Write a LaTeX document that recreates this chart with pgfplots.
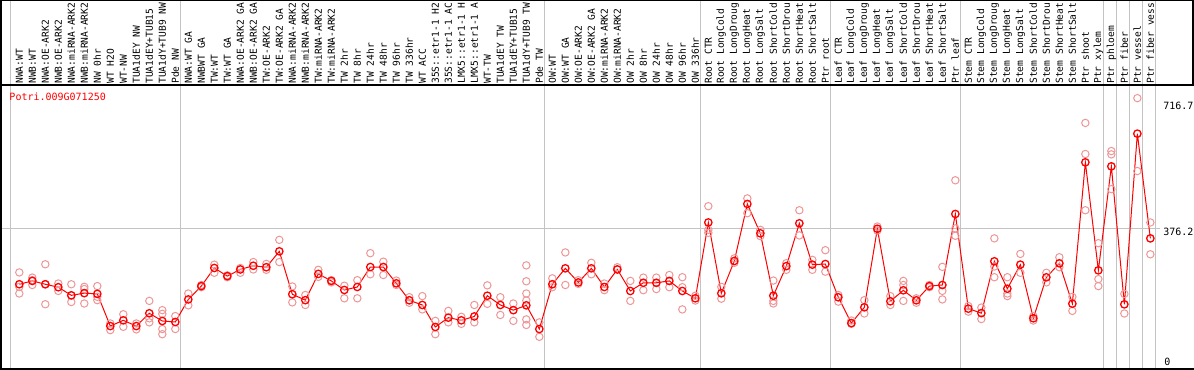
\documentclass[border=0pt]{standalone}
\usepackage{pgfplots}
\pgfplotsset{compat=1.18}
\usepackage{fontspec}
\newfontfamily\mono{DejaVu Sans Mono}
\definecolor{rep}{RGB}{238,150,150}
\definecolor{sep}{RGB}{195,195,195}
\begin{document}
\begin{tikzpicture}
\useasboundingbox (0,0) rectangle (1194bp,370bp);
\begin{axis}[
  at={(1bp,1.2bp)}, anchor=south west,
  scale only axis, width=1191.5bp, height=283.8bp,
  xmin=-1.408, xmax=90.246, ymin=-3.5, ymax=763.5,
  axis line style={draw=none},
  clip=false,
  major tick length=0pt,
  tick style={draw=none},
  xtick={0,...,87},
  xticklabel pos=upper,
  xticklabels={NWA:WT,NWB:WT,NWA:OE-ARK2,NWB:OE-ARK2,NWA:miRNA-ARK2,NWB:miRNA-ARK2,NW 0hr,WT H2O,WT-NW,TUA1dEY NW,TUA1dEY+TUB15,TUA1dY+TUB9 NW,Pde NW,
    NWA:WT GA,NWBWT GA,TW:WT,TW:WT GA,NWA:OE-ARK2 GA,NWB:OE-ARK2 GA,TW:OE-ARK2,TW:OE-ARK2 GA,NWA:miRNA-ARK2,NWB:miRNA-ARK2,TW:miRNA-ARK2,TW:miRNA-ARK2,TW 2hr,TW 8hr,TW 24hr,TW 48hr,TW 96hr,TW 336hr,WT ACC,35S::etr1-1 H2,35S::etr1-1 AC,LMX5::etr1-1 H,LMX5::etr1-1 A,WT-TW,TUA1dEY TW,TUA1dEY+TUB15,TUA1dY+TUB9 TW,Pde TW,
    OW:WT,OW:WT GA,OW:OE-ARK2,OW:OE-ARK2 GA,OW:miRNA-ARK2,OW:miRNA-ARK2,OW 2hr,OW 8hr,OW 24hr,OW 48hr,OW 96hr,OW 336hr,
    Root CTR,Root LongCold,Root LongDroug,Root LongHeat,Root LongSalt,Root ShortCold,Root ShortDrou,Root ShortHeat,Root ShortSalt,Ptr root,
    Leaf CTR,Leaf LongCold,Leaf LongDroug,Leaf LongHeat,Leaf LongSalt,Leaf ShortCold,Leaf ShortDrou,Leaf ShortHeat,Leaf ShortSalt,Ptr leaf,
    Stem CTR,Stem LongCold,Stem LongDroug,Stem LongHeat,Stem LongSalt,Stem ShortCold,Stem ShortDrou,Stem ShortHeat,Stem ShortSalt,Ptr shoot,Ptr xylem,
    Ptr phloem,Ptr fiber,Ptr vessel,Ptr fiber vess},
  xticklabel style={rotate=90, anchor=west, inner sep=1.2bp, font=\mono\fontsize{9.6bp}{10bp}\selectfont, text=black},
  ytick={376.2,716.7},
  yticklabels={376.2,716.7},
  yticklabel pos=right,
  yticklabel style={anchor=north west, inner sep=0pt, xshift=-29.5bp, font=\mono\fontsize{10bp}{11bp}\selectfont},
  extra y ticks={0},
  extra y tick labels={0},
  extra y tick style={yticklabel style={anchor=south west, yshift=1.5bp, xshift=1bp}},
]
% separators
\draw[sep, line width=1bp] (axis cs:87.75,376.2) -- (axis cs:-1.408,376.2);
\pgfplotsinvokeforeach{-0.69,12.38,40.38,52.38,62.38,72.38,83.38,84.38,85.38,86.38,87.38}{
  \draw[sep, line width=1bp] (axis cs:#1,-3.5) -- (axis cs:#1,996);
}
% replicates
\addplot[only marks, mark=o, mark size=3.7bp, mark options={draw=rep, line width=1bp}] coordinates {
(0,257)(0,218)(0,200)(1,243)(1,223)(1,236)(2,279)(2,171)(2,225)(3,227)(3,207)
(4,225)(4,177)(4,195)(5,218)(5,212)(5,173)(6,220)(6,191)(6,182)(7,119)(7,101)
(8,144)(8,110)(9,119)(9,103)(10,180)(10,133)(10,122)(11,155)(11,145)(11,104)(11,90)
(12,139)(12,104)(13,200)(13,168)(14,223)(14,217)(15,278)(15,256)(16,249)(16,244)
(17,269)(17,256)(18,285)(18,265)(19,280)(19,264)(20,345)(20,285)(21,219)(21,176)
(22,196)(22,169)(23,264)(23,245)(24,236)(24,230)(25,221)(25,187)(26,236)(26,187)
(27,309)(27,252)(28,286)(28,250)(29,235)(29,223)(30,190)(30,175)(31,193)(31,157)
(32,126)(32,90)(33,153)(33,122)(34,137)(34,118)(35,169)(35,122)(36,222)(36,172)
(37,190)(37,142)(38,173)(38,126)(39,276)(39,233)(39,200)(39,181)(39,130)(39,115)
(40,122)(40,83)(41,241)(41,217)(42,311)(42,223)(43,236)(43,226)(44,283)(44,252)
(45,227)(45,209)(46,265)(46,271)(47,234)(47,180)(48,243)(48,209)(49,243)(49,212)
(50,250)(50,217)(51,244)(51,217)(51,157)(52,194)(52,181)(53,436)(53,372)(53,364)
(54,218)(54,186)(55,295)(55,283)(56,457)(56,417)(57,372)(57,355)(58,235)(58,180)(58,173)
(59,282)(59,264)(60,425)(60,357)(61,291)(61,264)(62,317)(62,259)(63,196)(63,178)
(64,127)(64,118)(65,182)(65,146)(66,381)(66,370)(67,193)(67,169)(68,234)(68,223)(68,180)
(69,187)(69,175)(70,223)(70,217)(71,272)(71,207)(71,184)(72,506)(72,376)(72,356)
(73,166)(73,151)(74,162)(74,131)(75,349)(75,273)(75,244)(76,244)(76,200)(76,193)
(77,307)(77,256)(78,139)(78,127)(79,256)(79,230)(80,298)(80,271)(81,191)(81,153)
(82,661)(82,577)(82,425)(83,336)(83,239)(83,220)(84,585)(84,576)(84,482)
(85,199)(85,146)(86,728)(86,531)(87,392)(87,306)
};
% means
\addplot[red, line width=1bp, mark=o, mark size=3.7bp, mark options={draw=red, line width=1.3bp}] coordinates {
(0,225)(1,234)(2,225)(3,217)(4,195)(5,201)(6,199)(7,112)(8,127.5)(9,112)
(10,146.5)(11,125.7)(12,123)(13,184)(14,220)(15,269)(16,247)(17,265)(18,275)(19,271)
(20,314)(21,198)(22,182)(23,253)(24,234)(25,209.5)(26,217.6)(27,271.6)(28,271.6)(29,227.5)
(30,181.6)(31,169)(32,109.5)(33,134.7)(34,127.5)(35,138)(36,194)(37,169)(38,155)(39,168)
(40,104)(41,225)(42,268)(43,230)(44,268)(45,217.6)(46,265)(47,206.8)(48,229)(49,229)
(50,234)(51,206.8)(52,187)(53,392)(54,200.5)(55,288)(56,442)(57,362.6)(58,194)(59,274)
(60,389.7)(61,278)(62,279.7)(63,189.7)(64,120)(65,162.6)(66,375)(67,179)(68,208.6)(69,181.6)
(70,220)(71,223)(72,414.9)(73,159)(74,147)(75,287)(76,213)(77,278)(78,133)(79,243.7)
(80,281.5)(81,172.5)(82,554.5)(83,262.6)(84,543.6)(85,170.7)(86,632)(87,349)
};
\end{axis}
% frame
\draw[black, line width=1.5bp] (1bp,0.5bp) -- (1bp,370bp);
\draw[black, line width=1.5bp] (0bp,1.2bp) -- (1194bp,1.2bp);
\draw[black, line width=1.5bp] (0bp,285bp) -- (1194bp,285bp);
\draw[black, line width=1.5bp] (0bp,369.5bp) -- (1194bp,369.5bp);
\draw[black, line width=1.5bp] (1192.8bp,285bp) -- (1192.8bp,370bp);
\node[anchor=base west, inner sep=0pt, text=red, font=\mono\fontsize{10bp}{11bp}\selectfont] at (9.3bp,269.5bp) {Potri.009G071250};
\end{tikzpicture}
\end{document}
